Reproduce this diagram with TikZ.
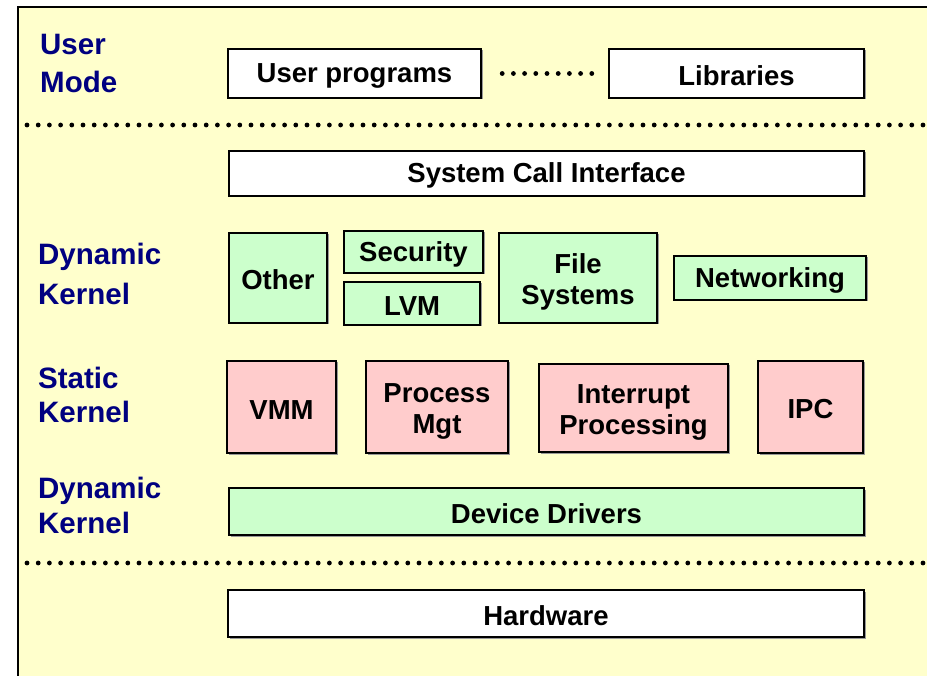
\documentclass[tikz,border=0pt]{standalone}
\usepackage{fontspec}
\setmainfont{Liberation Sans}
\usepackage{tikz}
\usetikzlibrary{shadows}

\definecolor{paper}{RGB}{255,255,204}
\definecolor{navy}{RGB}{0,0,128}
\definecolor{dynfill}{RGB}{204,255,204}
\definecolor{statfill}{RGB}{255,204,204}

\tikzset{
  box/.style={draw, line width=2.4pt, inner sep=0pt, align=center,
    font=\fontsize{27.5}{31}\selectfont\bfseries,
    execute at begin node={\rule{0pt}{0.88em}},
    drop shadow={shadow xshift=1.5pt, shadow yshift=-1.5pt, fill=black!40, opacity=1}},
  twoline/.style={execute at begin node={\rule{0pt}{2.12em}}},
  userbox/.style={box, fill=white},
  dynbox/.style={box, fill=dynfill},
  statbox/.style={box, fill=statfill},
  modelabel/.style={anchor=base west, inner sep=0pt, align=left, text=navy,
    font=\fontsize{29.5}{#1}\selectfont\bfseries},
  sepline/.style={line width=4.8pt, line cap=round, dash pattern=on 0pt off 11.2pt}
}

\begin{document}
\begin{tikzpicture}[x=1pt, y=-1pt]
    \useasboundingbox (0,0) rectangle (927,676);
    \fill[paper] (18,7) rectangle (940,690);
    \draw[line width=2.5pt] (18,690) -- (18,7) -- (940,7);

    % mode labels (anchored at the baseline of the last line)
    \node[modelabel=38] (lblusr) at (40,93) {User\\Mode};
    \node[modelabel=40] (lbldyn) at (38,305) {Dynamic\\Kernel};
    \node[modelabel=35] (lblsta) at (38,423) {Static\\Kernel};
    \node[modelabel=35] (lbldrv) at (38,533) {Dynamic\\Kernel};

    % user mode
    \node[userbox, minimum width=253, minimum height=49] (usr) at (354.5,73.5) {User programs};
    \node[userbox, minimum width=255, minimum height=49] (lib) at (736.5,73.5) {Libraries};
    \draw[sepline] ([xshift=20]usr.east) -- ([xshift=-15]lib.west);

    \draw[sepline] (27,125) -- (927,125);

    % kernel
    \node[userbox, minimum width=635, minimum height=45] (sci) at (546.5,173.5) {System Call Interface};

    \node[dynbox, minimum width=98, minimum height=90] (oth) at (278,278) {Other};
    \node[dynbox, minimum width=139, minimum height=42] (sec) at (413.5,252) {Security};
    \node[dynbox, minimum width=136, minimum height=43] (lvm) at (412,303.5) {LVM};
    \node[dynbox, twoline, minimum width=158, minimum height=90] (fsys) at (578,278) {File\\Systems};
    \node[dynbox, minimum width=192, minimum height=44] (net) at (770,278) {Networking};

    \node[statbox, minimum width=109, minimum height=92] (vmm) at (281.5,407) {VMM};
    \node[statbox, twoline, minimum width=142, minimum height=92] (pmg) at (437,407) {Process\\Mgt};
    \node[statbox, twoline, minimum width=189, minimum height=88] (irq) at (633.5,408) {Interrupt\\Processing};
    \node[statbox, minimum width=105, minimum height=92] (ipc) at (810.5,407) {IPC};

    \node[dynbox, minimum width=635, minimum height=47] (drv) at (546.5,511.5) {Device Drivers};

    \draw[sepline] (27,563) -- (927,563);

    % hardware
    \node[userbox, minimum width=636, minimum height=47] (hw) at (546,613.5) {Hardware};
\end{tikzpicture}
\end{document}
